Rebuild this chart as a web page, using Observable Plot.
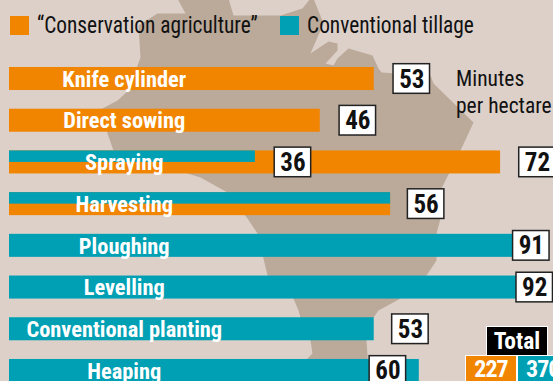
<!doctype html>
<html><head><meta charset="utf-8">
<script src="https://cdn.jsdelivr.net/npm/d3@7"></script>
<script src="https://cdn.jsdelivr.net/npm/@observablehq/plot@0.6"></script>
<style>
html,body{margin:0;padding:0;background:#dcd0c9}
#chart{position:relative;width:553px;height:381px;overflow:hidden}
svg{display:block}
</style></head><body><div id="chart"></div>
<script>
const rows = ["Knife cylinder","Direct sowing","Spraying","Harvesting","Ploughing","Levelling","Conventional planting","Heaping"];
// Drawn bar lengths in minutes, as they appear on the picture
const conservationBars = [53.4,45.5,71.9,55.8,null,null,null,null];
const tillageBars = [null,null,36,55.8,75,75,53.4,60];
// Printed values and where each box sits on the minutes axis
const boxValues = [53,46,36,72,56,91,92,53,60];
const boxRows = [0,1,2,2,3,4,5,6,7];
const boxAt = [58.9,51,41.5,77.3,61,76.4,76.9,58.7,55.4];
const legendLabels = ["“Conservation agriculture”","Conventional tillage"];
const unitLines = ["Minutes","per hectare"];
const totals = [227,370];
// Outline of Brazil behind the bars, in minutes and rows
const px = ([a,b]) => ({x:(a-9)/6.83, y:(b-78.5)/41.71});
const mapOutline = [[177,-2],[185,13],[157,13],[138,25],[140,57],[128,90],[117,100],[102,108],[107,133],[113,150],[200,177],[227,192],[247,218],[257,233],[263,258],[267,275],[293,298],[298,310],[300,317],[310,340],[312,353],[307,358],[307,383],[367,383],[367,355],[366,340],[373,317],[378,310],[400,298],[426,275],[436,260],[436,233],[440,218],[440,190],[460,150],[473,122],[433,83],[430,75],[381,72],[378,68],[372,55],[348,48],[337,58],[333,65],[325,63],[337,50],[337,43],[328,41],[310,53],[323,23],[313,-2],[310,-2],[302,8],[280,15],[233,15],[228,-2]].map(px);

const orange="#f28500", teal="#00a0b4", ink="#111";
const cond="'Liberation Sans Narrow','Roboto Condensed','Liberation Sans',sans-serif";
const half=0.276;
const barsOf=(arr)=>rows.map((r,i)=>({r:i,v:arr[i]})).filter(d=>d.v!=null);
const boxes=boxValues.map((v,i)=>({v,r:boxRows[i],at:boxAt[i]}));
const plot=Plot.plot({
  width:553,height:381,margin:0,
  x:{domain:[-9/6.83,544/6.83],range:[0,553],axis:null},
  y:{domain:[-78.5/41.71,(381-78.5)/41.71],range:[0,381],axis:null},
  style:{background:"#dcd0c9",fontFamily:cond},
  marks:[
    Plot.line(mapOutline,{x:"x",y:"y",fill:"#bba99a",stroke:null,curve:"linear-closed"}),
    Plot.rect(barsOf(conservationBars),{x1:0,x2:"v",y1:d=>d.r-half,y2:d=>d.r+half,fill:orange}),
    Plot.rect(barsOf(tillageBars),{x1:0,x2:"v",y1:d=>d.r-half,y2:d=>(d.r===2||d.r===3)?d.r:d.r+half,fill:teal}),
    Plot.text(rows,{x:16.8,y:(d,i)=>i,dy:0.5,text:d=>d,fill:"#fff",fontWeight:"bold",fontSize:22.4,lineAnchor:"middle"}),
    Plot.rect(boxes,{x1:d=>d.at-2.67,x2:d=>d.at+2.67,y1:d=>d.r-0.355,y2:d=>d.r+0.355,fill:"#fff",stroke:"#222",strokeWidth:1.5}),
    Plot.text(boxes,{x:"at",y:"r",dy:0.5,text:d=>String(d.v),fill:ink,fontWeight:"bold",fontSize:25,lineAnchor:"middle"})
  ]
});
const chart=document.getElementById("chart");
chart.appendChild(plot);
const css=(el,s)=>(el.style.cssText=s,el);
const add=(txt,s)=>{const e=document.createElement("div");e.textContent=txt;css(e,"position:absolute;white-space:nowrap;font-family:"+cond+";"+s);chart.appendChild(e);return e;};
const squeeze="transform-origin:left center;transform:scaleX(.93);";
add("", "left:10px;top:16px;width:19px;height:19px;background:"+orange);
add(legendLabels[0],"left:37px;top:12px;font-size:23px;color:"+ink+";"+squeeze);
add("", "left:280px;top:16px;width:19px;height:19px;background:"+teal);
add(legendLabels[1],"left:307px;top:12px;font-size:23px;color:"+ink+";"+squeeze);
add(unitLines[0],"left:456px;top:66px;font-size:21.5px;color:"+ink);
add(unitLines[1],"left:456px;top:93px;font-size:21.5px;color:"+ink);
add("Total","left:487px;top:327px;width:60px;height:28px;line-height:28px;text-align:center;background:#000;color:#fff;font-weight:bold;font-size:23.5px;outline:1px solid #fff");
add(String(totals[0]),"left:466px;top:356px;width:50px;height:27px;line-height:27px;text-align:center;background:"+orange+";color:#fff;font-weight:bold;font-size:24px;letter-spacing:-1px;outline:1px solid #fff");
add(String(totals[1]),"left:518px;top:356px;width:40px;height:27px;line-height:27px;padding-left:8px;background:"+teal+";color:#fff;font-weight:bold;font-size:24px;letter-spacing:-1px;outline:1px solid #fff");
</script></body></html>
